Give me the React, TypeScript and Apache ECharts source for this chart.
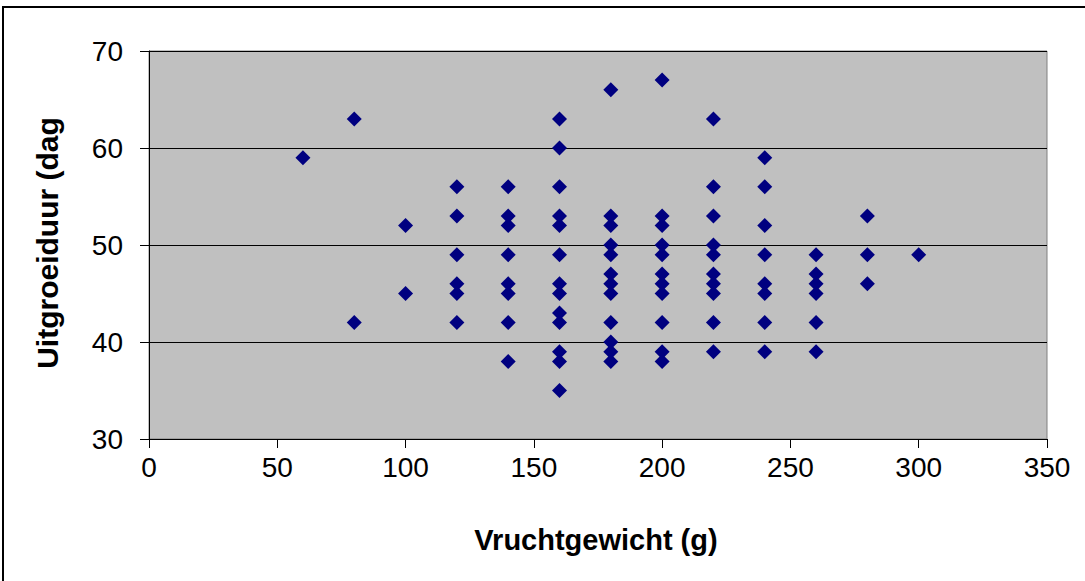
import React, { useEffect, useRef } from "react";
import * as echarts from "echarts";

const xTicks = [0, 350, 50];
const yTicks = [30, 70, 10];
const xTitle = "Vruchtgewicht (g)";
const yTitle = "Uitgroeiduur (dag";

const weights = [
  60,
  80, 80,
  100, 100,
  120, 120, 120, 120, 120, 120,
  140, 140, 140, 140, 140, 140, 140, 140,
  160, 160, 160, 160, 160, 160, 160, 160, 160, 160, 160, 160, 160,
  180, 180, 180, 180, 180, 180, 180, 180, 180, 180, 180, 180,
  200, 200, 200, 200, 200, 200, 200, 200, 200, 200, 200,
  220, 220, 220, 220, 220, 220, 220, 220, 220, 220,
  240, 240, 240, 240, 240, 240, 240, 240,
  260, 260, 260, 260, 260, 260,
  280, 280, 280,
  300,
];
const days = [
  59,
  63, 42,
  52, 45,
  56, 53, 49, 46, 45, 42,
  56, 53, 52, 49, 46, 45, 42, 38,
  63, 60, 56, 53, 52, 49, 46, 45, 43, 42, 39, 38, 35,
  66, 53, 52, 50, 49, 47, 46, 45, 42, 40, 39, 38,
  67, 53, 52, 50, 49, 47, 46, 45, 42, 39, 38,
  63, 56, 53, 50, 49, 47, 46, 45, 42, 39,
  59, 56, 52, 49, 46, 45, 42, 39,
  49, 47, 46, 45, 42, 39,
  53, 49, 46,
  49,
];

const FONT = "'Liberation Sans', Arial, sans-serif";

export default function App() {
  const ref = useRef<HTMLDivElement>(null);
  useEffect(() => {
    if (!ref.current) return;
    const chart = echarts.init(ref.current, null, { renderer: "svg" });
    const data = weights.map((w, i) => [w, days[i]]);
    chart.setOption({
      animation: false,
      backgroundColor: "#ffffff",
      grid: {
        left: 149,
        top: 51,
        width: 898,
        height: 388,
        show: true,
        backgroundColor: "#C0C0C0",
        borderColor: "#808080",
        borderWidth: 1,
      },
      xAxis: {
        type: "value",
        min: xTicks[0],
        max: xTicks[1],
        interval: xTicks[2],
        axisLine: { show: true, onZero: false, lineStyle: { color: "#000", width: 1 } },
        axisTick: { show: true, inside: false, length: 9, lineStyle: { color: "#000" } },
        splitLine: { show: false },
        axisLabel: { color: "#000", fontFamily: FONT, fontSize: 28, margin: 14 },
      },
      yAxis: {
        type: "value",
        min: yTicks[0],
        max: yTicks[1],
        interval: yTicks[2],
        axisLine: { show: true, onZero: false, lineStyle: { color: "#000", width: 1 } },
        axisTick: { show: true, inside: false, length: 9, lineStyle: { color: "#000" } },
        splitLine: { show: true, lineStyle: { color: "#000", width: 1 } },
        axisLabel: { color: "#000", fontFamily: FONT, fontSize: 28, margin: 26 },
      },
      graphic: [
        {
          type: "rect",
          shape: { x: 3, y: 7, width: 1200, height: 700 },
          style: { fill: "none", stroke: "#000", lineWidth: 2 },
          silent: true,
          z: -10,
        },
        {
          type: "text",
          x: 47,
          y: 243,
          rotation: Math.PI / 2,
          style: {
            text: yTitle,
            font: `bold 30px ${FONT}`,
            fill: "#000",
            align: "center",
            verticalAlign: "middle",
          },
        },
        {
          type: "text",
          x: 596,
          y: 540,
          style: {
            text: xTitle,
            font: `bold 29px ${FONT}`,
            fill: "#000",
            align: "center",
            verticalAlign: "middle",
          },
        },
      ],
      series: [
        {
          type: "scatter",
          data,
          symbol: "diamond",
          symbolSize: 15,
          itemStyle: { color: "#000080", opacity: 1 },
        },
      ],
    });
    return () => chart.dispose();
  }, []);
  return (
    <div
      ref={ref}
      style={{ position: "absolute", left: 0, top: 0, width: 1085, height: 581 }}
    />
  );
}
